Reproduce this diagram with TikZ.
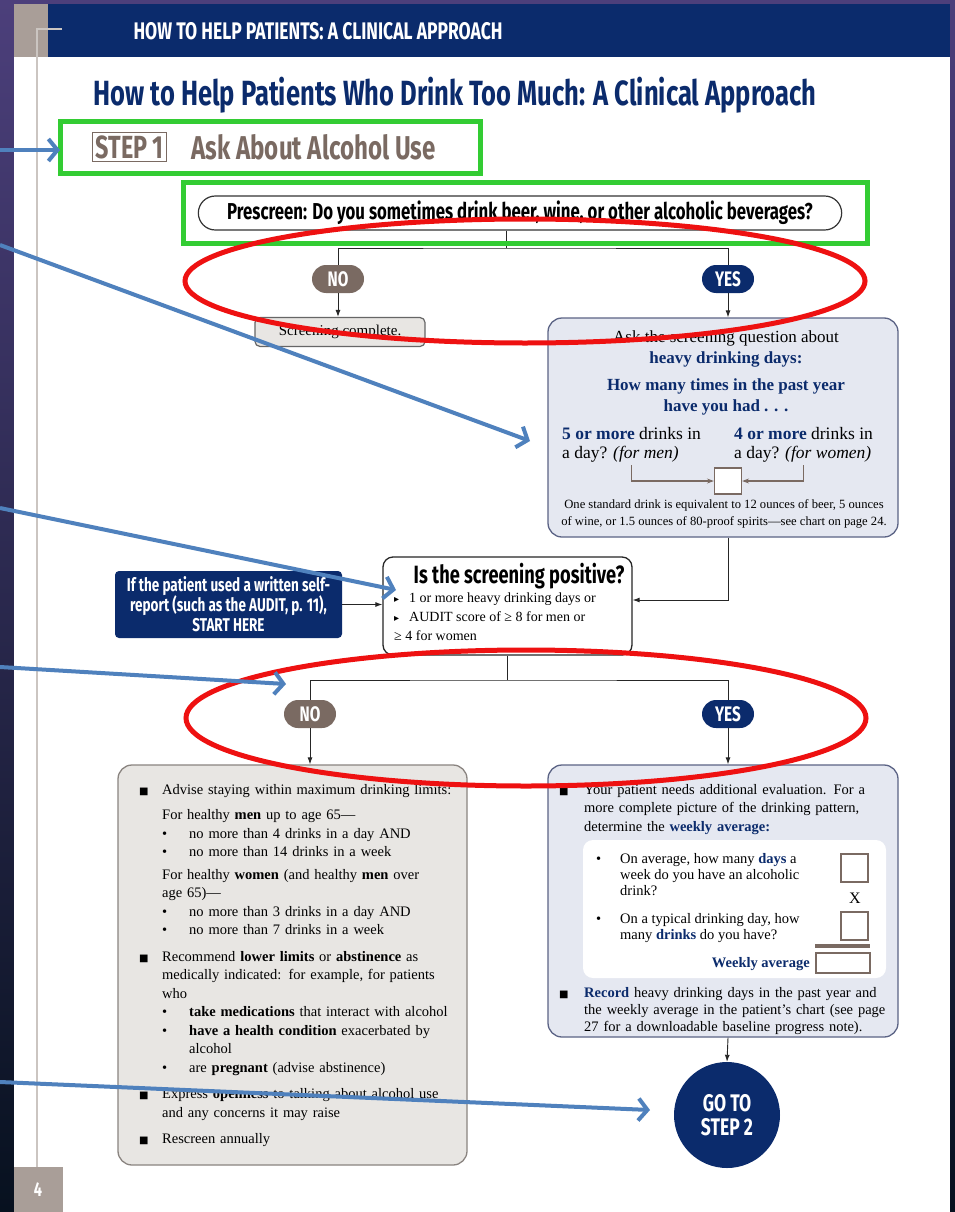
\documentclass[tikz,border=0pt]{standalone}
\usepackage{fontspec}
\setmainfont{Liberation Serif}
\newfontfamily\condfont[FakeStretch=0.73]{Fira Sans}
\newfontfamily\symfont{DejaVu Sans}
\usetikzlibrary{arrows.meta, positioning, shapes.misc, calc}

\definecolor{pagenavy}{HTML}{0B2B6C}
\definecolor{stonebrown}{HTML}{7A6A62}
\definecolor{stonelight}{HTML}{A99E98}
\definecolor{paleblue}{HTML}{E5E8F1}
\definecolor{palestone}{HTML}{E8E6E3}
\definecolor{frameblue}{HTML}{5B6385}
\definecolor{framestone}{HTML}{8A8480}
\definecolor{markgreen}{HTML}{33CC33}
\definecolor{markred}{HTML}{EE1111}
\definecolor{callblue}{HTML}{4F81BD}
\definecolor{bgtop}{HTML}{4C3F7B}
\definecolor{bgbottom}{HTML}{07111F}

\newcommand{\sqbul}{\makebox[23pt][l]{\symfont\fontsize{10}{10}\selectfont ■}}
\newcommand{\sqbulr}{\makebox[25pt][l]{\symfont\fontsize{10}{10}\selectfont ■}}
\newcommand{\dotbul}{\hspace*{23pt}\makebox[27pt][l]{•}}
\newcommand{\navybf}[1]{\textbf{\textcolor{pagenavy}{#1}}}
\newcommand{\tri}{\makebox[15pt][l]{\symfont\fontsize{10}{10}\selectfont ▸}}

\begin{document}
\begin{tikzpicture}[x=1pt,y=-1pt,
    flow/.style={draw=black!85, line width=0.9pt},
    flowarrow/.style={flow, -{Latex[length=7pt,width=5pt]}},
    pill/.style={rounded rectangle, minimum width=52pt, minimum height=28pt, inner sep=0pt,
        text=white, font=\condfont\bfseries\fontsize{21}{21}\selectfont},
    panel/.style={line width=1.3pt, rounded corners=14pt, inner sep=0pt},
    greenframe/.style={markgreen, line width=5pt},
    ring/.style={markred, line width=5pt},
    callout/.style={callblue, line width=4pt, -{Straight Barb[length=9pt,width=22pt]}},
    serif14/.style={font=\fontsize{14.5}{18.5}\selectfont, align=left, inner sep=0pt}
]
    \useasboundingbox (0,0) rectangle (955,1212);

    % backdrop and page
    \shade[top color=bgtop, bottom color=bgbottom] (0,0) rectangle (955,1212);
    \fill[white] (14,4) rectangle (950,1212);

    % header band
    \fill[pagenavy] (48,4) rectangle (950,57);
    \fill[stonelight] (14,4) rectangle (48,57);
    \draw[stonelight!60, line width=1.2pt] (62,29) -- (37,29) -- (37,1167);
    \fill[stonelight] (14,1167) rectangle (63,1212);
    \node[text=white, font=\condfont\bfseries\fontsize{20}{20}\selectfont] (pagenum) at (38,1190) {4};
    \node[anchor=west, text=white, font=\condfont\bfseries\fontsize{24}{24}\selectfont] (header) at (130,31)
        {HOW TO HELP PATIENTS: A CLINICAL APPROACH};

    \node[anchor=west, text=pagenavy, font=\condfont\bfseries\fontsize{35}{35}\selectfont] (title) at (90,95)
        {How to Help Patients Who Drink Too Much: A Clinical Approach};

    \node[anchor=west, draw=stonebrown, line width=1.2pt, inner sep=3pt, text=stonebrown,
        font=\condfont\bfseries\fontsize{32}{32}\selectfont] (stepone) at (92,147) {STEP 1};
    \node[anchor=west, text=stonebrown, font=\condfont\bfseries\fontsize{33}{33}\selectfont] (asktitle) at (188,147)
        {Ask About Alcohol Use};

    % prescreen
    \node[rounded rectangle, draw=black!80, line width=1.2pt, minimum width=650pt, minimum height=34pt,
        font=\condfont\bfseries\fontsize{23}{23}\selectfont] (prescreen) at (520,213)
        {Prescreen: Do you sometimes drink beer, wine, or other alcoholic beverages?};
    \coordinate (forkone) at (506,248);
    \node[pill, fill=stonebrown] (noone) at (338,279) {NO};
    \node[pill, fill=pagenavy] (yesone) at (728,279) {YES};
    \draw[flow] (prescreen.south -| forkone) -- (forkone);
    \draw[flow] (noone.north) |- (forkone) -| (yesone.north);

    \node[draw=black!60, fill=palestone, line width=1.2pt, rounded corners=5pt, minimum width=170pt,
        minimum height=29pt, font=\fontsize{15}{15}\selectfont] (screendone) at (340,332) {Screening complete.};
    \draw[flowarrow] (noone.south) -- (noone.south |- screendone.north);

    % heavy drinking days panel
    \node[panel, draw=frameblue, fill=paleblue, minimum width=350pt, minimum height=219pt] (heavybox) at (723,427.5) {};
    \draw[flowarrow] (yesone.south) -- (yesone.south |- heavybox.north);
    \node[anchor=north, align=center, inner sep=0pt, font=\fontsize{17}{20.5}\selectfont] (askline) at (726,331)
        {Ask the screening question about\\ \navybf{heavy drinking days:}\\[7pt]
         \navybf{How many times in the past year}\\ \navybf{have you had . . .}};
    \node[anchor=north west, align=left, inner sep=0pt, font=\fontsize{17.5}{19}\selectfont] (mencol) at (562,427)
        {\navybf{5 or more} drinks in\\ a day? \textit{(for men)}};
    \node[anchor=north west, align=left, inner sep=0pt, font=\fontsize{17.5}{19}\selectfont] (womencol) at (734,427)
        {\navybf{4 or more} drinks in\\ a day? \textit{(for women)}};
    \node[draw=stonebrown, fill=white, line width=1.2pt, minimum width=27pt, minimum height=26pt, inner sep=0pt]
        (tickbox) at (728,481) {};
    \draw[stonebrown, line width=1.2pt, -{Stealth[length=7pt,width=5pt]}] (mencol.south) ++(0,3) |- (tickbox.west);
    \draw[stonebrown, line width=1.2pt, -{Stealth[length=7pt,width=5pt]}] (womencol.south) ++(0,3) |- (tickbox.east);
    \node[anchor=north, align=center, inner sep=0pt, font=\fontsize{12.6}{17}\selectfont] (drinknote) at (724,499)
        {One standard drink is equivalent to 12 ounces of beer, 5 ounces\\
         of wine, or 1.5 ounces of 80-proof spirits—see chart on page 24.};

    % screening question
    \node[draw=black!85, fill=white, line width=1.3pt, rounded corners=10pt, minimum width=249pt,
        minimum height=98pt] (question) at (507.5,606) {};
    \node[font=\condfont\bfseries\fontsize{25}{25}\selectfont] (qtitle) at (519,576) {Is the screening positive?};
    \node[anchor=north west, align=left, inner sep=0pt, font=\fontsize{14}{19}\selectfont] (qlist) at (394,593)
        {\tri 1 or more heavy drinking days or\\ \tri AUDIT score of ≥ 8 for men or\\ ≥ 4 for women};
    \node[fill=pagenavy, rounded corners=4pt, minimum width=227pt, minimum height=67pt, align=center,
        text=white, font=\condfont\bfseries\fontsize{18.5}{20}\selectfont] (selfreport) at (228.5,604.5)
        {If the patient used a written self-\\ report (such as the AUDIT, p. 11),\\ START HERE};
    \draw[flowarrow] (selfreport.east) -- (selfreport.east -| question.west);
    \draw[flowarrow] (yesone.south |- heavybox.south) |- ([yshift=6pt]question.east);

    \coordinate (forktwo) at (507.5,680);
    \node[pill, fill=stonebrown] (notwo) at (310,714) {NO};
    \node[pill, fill=pagenavy] (yestwo) at (728,714) {YES};
    \draw[flow] (question.south) -- (forktwo);
    \draw[flow] (notwo.north) |- (forktwo) -| (yestwo.north);

    % advice panel
    \node[panel, draw=framestone, fill=palestone, minimum width=349pt, minimum height=400pt] (advisebox) at (292.5,965) {};
    \draw[flowarrow] (notwo.south) -- (notwo.south |- advisebox.north);
    \node[serif14, anchor=north west, text width=330pt] (advisetext) at (139,784)
        {\sqbul Advise staying within maximum drinking limits:\\[7pt]
         \hspace*{23pt}For healthy \textbf{men} up to age 65—\\
         \dotbul no more than 4 drinks in a day AND\\
         \dotbul no more than 14 drinks in a week\\[4pt]
         \hspace*{23pt}For healthy \textbf{women} (and healthy \textbf{men} over\\
         \hspace*{23pt}age 65)—\\
         \dotbul no more than 3 drinks in a day AND\\
         \dotbul no more than 7 drinks in a week\\[8pt]
         \sqbul Recommend \textbf{lower limits} or \textbf{abstinence} as\\
         \hspace*{23pt}medically indicated: for example, for patients\\
         \hspace*{23pt}who\\
         \dotbul \textbf{take medications} that interact with alcohol\\
         \dotbul \textbf{have a health condition} exacerbated by\\
         \hspace*{50pt}alcohol\\
         \dotbul are \textbf{pregnant} (advise abstinence)\\[8pt]
         \sqbul Express \textbf{openness} to talking about alcohol use\\
         \hspace*{23pt}and any concerns it may raise\\[8pt]
         \sqbul Rescreen annually};

    % evaluation panel
    \node[panel, draw=frameblue, fill=paleblue, minimum width=350pt, minimum height=272pt] (evalbox) at (723,901) {};
    \draw[flowarrow] (yestwo.south) -- (yestwo.south |- evalbox.north);
    \node[serif14, anchor=north west, text width=345pt] (evaltext) at (559,784)
        {\sqbulr Your patient needs additional evaluation. For a\\
         \hspace*{25pt}more complete picture of the drinking pattern,\\
         \hspace*{25pt}determine the \navybf{weekly average:}};
    \fill[white, rounded corners=10pt] (583,840) rectangle (886,978);
    \node[serif14, anchor=north west, font=\fontsize{14.5}{16}\selectfont] (daysq) at (596,853)
        {\makebox[24pt][l]{•}On average, how many \navybf{days} a\\
         \hspace*{24pt}week do you have an alcoholic\\ \hspace*{24pt}drink?};
    \node[serif14, anchor=north west, font=\fontsize{14.5}{16}\selectfont] (drinksq) at (596,913)
        {\makebox[24pt][l]{•}On a typical drinking day, how\\
         \hspace*{24pt}many \navybf{drinks} do you have?};
    \draw[stonebrown, line width=1.5pt] (841,854) rectangle (868,882);
    \node[font=\fontsize{16}{16}\selectfont] (timesx) at (855,898) {X};
    \draw[stonebrown, line width=1.5pt] (841,912) rectangle (868,940);
    \fill[stonebrown] (815,944) rectangle (870,948);
    \draw[stonebrown, line width=1.5pt] (816,953) rectangle (870,973);
    \node[anchor=east, inner sep=0pt, font=\fontsize{14.5}{14}\selectfont] (weeklyavg) at (810,964) {\navybf{Weekly average}};
    \node[serif14, anchor=north west, text width=345pt, font=\fontsize{14.5}{17}\selectfont] (recordtext) at (559,987)
        {\sqbulr \navybf{Record} heavy drinking days in the past year and\\
         \hspace*{25pt}the weekly average in the patient's chart (see page\\
         \hspace*{25pt}27 for a downloadable baseline progress note).};

    \node[circle, fill=pagenavy, minimum size=106pt, inner sep=0pt, align=center, text=white,
        font=\condfont\bfseries\fontsize{24}{24}\selectfont] (gostep) at (727,1115) {GO TO\\STEP 2};
    \draw[flowarrow] (yestwo.south |- evalbox.south) -- (gostep.north);

    % markup laid over the page
    \draw[greenframe] (60,122) rectangle (480,173);
    \draw[greenframe] (183,182) rectangle (867,243);
    \draw[ring] (525,281) ellipse [x radius=340, y radius=62];
    \draw[ring] (526,718) ellipse [x radius=340, y radius=68];

    \coordinate (calloneS) at (0,150);   \coordinate (calloneE) at (60,150);
    \coordinate (calltwoS) at (0,245);   \coordinate (calltwoE) at (530,441);
    \coordinate (callthreeS) at (0,508); \coordinate (callthreeE) at (396,590);
    \coordinate (callfourS) at (0,667);  \coordinate (callfourE) at (286,684);
    \coordinate (callfiveS) at (0,1082); \coordinate (callfiveE) at (650,1110);
    \foreach \w in {one,two,three,four,five}
        \draw[callout] (call\w S) -- (call\w E);
\end{tikzpicture}
\end{document}
